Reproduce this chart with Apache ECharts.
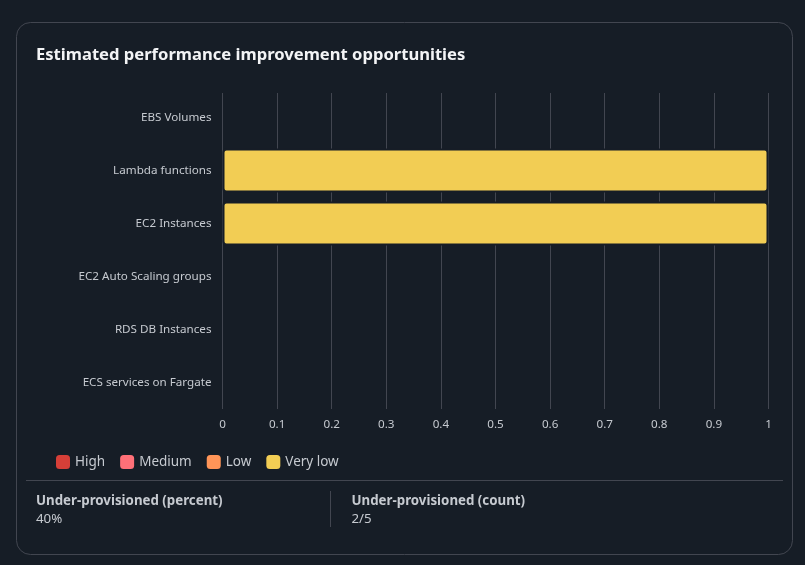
<!DOCTYPE html>
<html lang="en">
<head>
	<meta charset="UTF-8">
	<title>Estimated performance improvement opportunities</title>
	<script src="https://cdn.jsdelivr.net/npm/echarts@6/dist/echarts.min.js"></script>
	<style>
		html, body { margin: 0; padding: 0; background: #161d26; }
		#main { width: 805px; height: 565px; }
	</style>
</head>
<body>
	<div id="main"></div>
	<script type="text/javascript">
		var categories = ['EBS Volumes', 'Lambda functions', 'EC2 Instances', 'EC2 Auto Scaling groups', 'RDS DB Instances', 'ECS services on Fargate'];
		var high = [0, 0, 0, 0, 0, 0];
		var medium = [0, 0, 0, 0, 0, 0];
		var low = [0, 0, 0, 0, 0, 0];
		var veryLow = [0, 1, 1, 0, 0, 0];
		var xTicks = [0, 1];
		var fontName = '"Noto Sans", sans-serif';
		var bg = '#161d26';
		var textColor = '#c6cad0';

		function barSeries(name, values, color) {
			return {
				name: name,
				type: 'bar',
				stack: 'total',
				barWidth: 44,
				itemStyle: { color: color, borderColor: bg, borderWidth: 2, borderRadius: 3 },
				// empty rows draw nothing
				data: values.map(function (v) { return v === 0 ? null : v; })
			};
		}

		var myChart = echarts.init(document.getElementById('main'), null, { renderer: 'canvas' });
		myChart.setOption({
			animation: false,
			backgroundColor: bg,
			textStyle: { fontFamily: fontName },
			title: {
				text: 'Estimated performance improvement opportunities',
				left: 31, top: 39,
				textStyle: { color: '#f3f4f6', fontSize: 16.6, fontWeight: 'bold', fontFamily: fontName, lineHeight: 22 }
			},
			legend: {
				left: 51, top: 450, itemWidth: 14, itemHeight: 14, itemGap: 15,
				icon: 'roundRect',
				itemStyle: { borderWidth: 0 },
				textStyle: { color: textColor, fontSize: 13.5, fontFamily: fontName, padding: [0, 0, 0, 0] },
				data: ['High', 'Medium', 'Low', 'Very low']
			},
			grid: { left: 222.5, top: 91, width: 546, height: 318 },
			xAxis: {
				type: 'value', min: xTicks[0], max: xTicks[1], interval: 0.1,
				axisLine: { show: false }, axisTick: { show: false },
				axisLabel: { color: textColor, fontSize: 11.65, margin: 10, fontFamily: fontName },
				splitLine: { lineStyle: { color: '#424650', width: 1 } }
			},
			yAxis: {
				type: 'category', inverse: true, data: categories,
				axisLine: { show: false }, axisTick: { show: false },
				axisLabel: { color: textColor, fontSize: 11.65, margin: 11, fontFamily: fontName }
			},
			series: [
				barSeries('High', high, '#d63f38'),
				barSeries('Medium', medium, '#ff7078'),
				barSeries('Low', low, '#ff9558'),
				barSeries('Very low', veryLow, '#f2cd54')
			],
			graphic: [
				{ type: 'rect', z: -1, shape: { x: 16.5, y: 22.5, width: 776, height: 532, r: 14 }, style: { fill: 'none', stroke: '#424650', lineWidth: 1 } },
				// gridlines start slightly below the top of the first row
				{ type: 'rect', z: 10, shape: { x: 218, y: 88, width: 556, height: 5 }, style: { fill: bg } },
				{ type: 'rect', shape: { x: 26, y: 480, width: 757, height: 1 }, style: { fill: '#424650' } },
				{ type: 'rect', shape: { x: 330, y: 491, width: 1, height: 36 }, style: { fill: '#424650' } },
				{ type: 'text', x: 36, y: 495, style: { text: 'Under-provisioned (percent)', fill: textColor, font: 'bold 13.3px ' + fontName } },
				{ type: 'text', x: 36, y: 513, style: { text: '40%', fill: textColor, font: '13.3px ' + fontName } },
				{ type: 'text', x: 351.5, y: 495, style: { text: 'Under-provisioned (count)', fill: textColor, font: 'bold 13.3px ' + fontName } },
				{ type: 'text', x: 351.5, y: 513, style: { text: '2/5', fill: textColor, font: '13.3px ' + fontName } }
			]
		});
	</script>
</body>
</html>
